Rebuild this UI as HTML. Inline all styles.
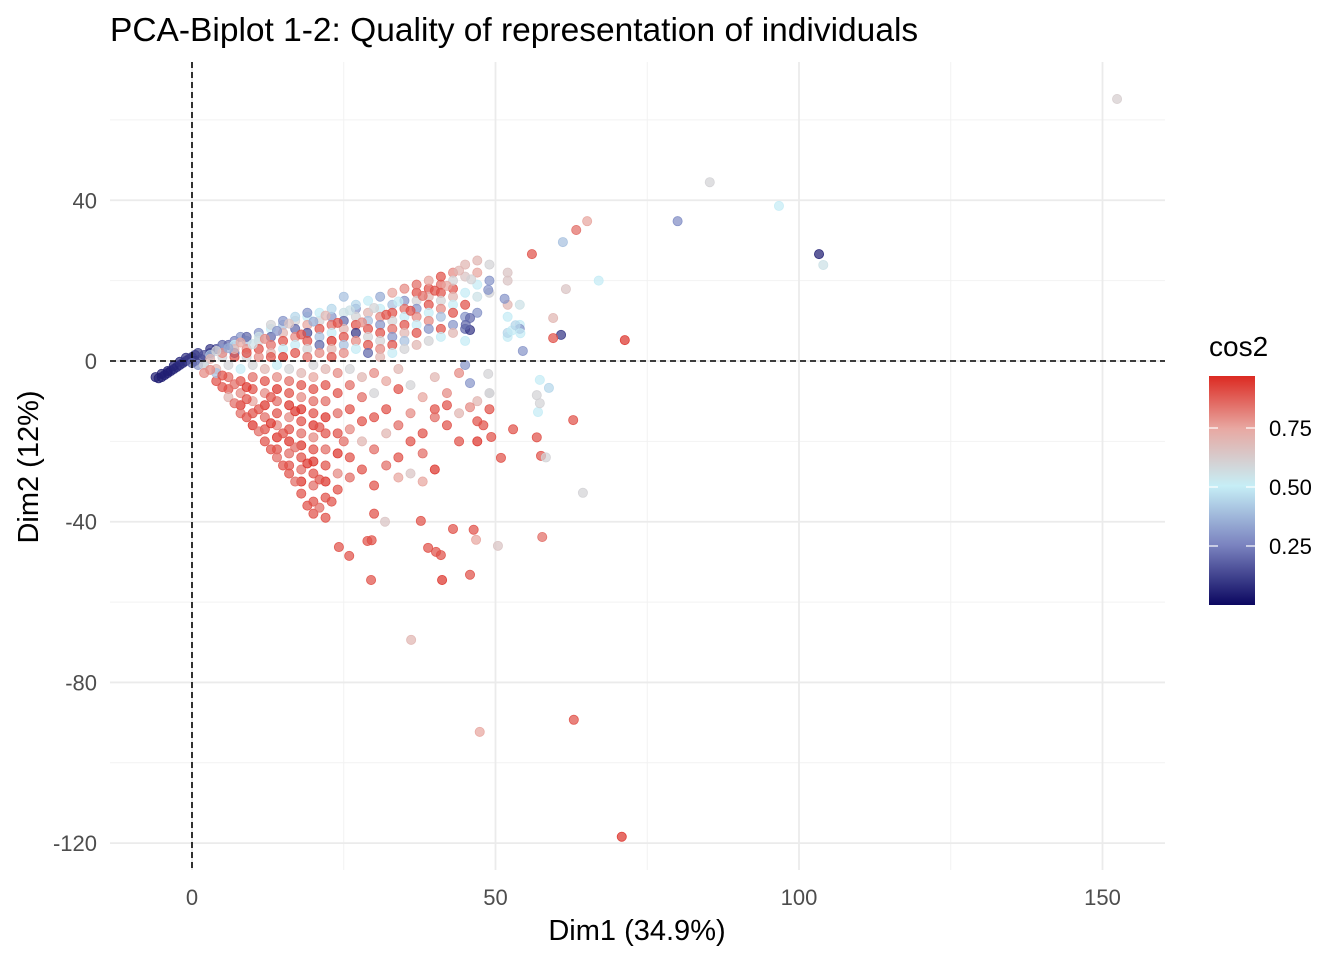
<!DOCTYPE html>
<html><head><meta charset="utf-8"><style>
html,body{margin:0;padding:0;background:#fff;}
svg{display:block;font-family:"Liberation Sans",Arial,sans-serif;}
</style></head><body>
<svg id="chart" width="1344" height="960" viewBox="0 0 1344 960">
<defs>
<linearGradient id="cg" x1="0" y1="1" x2="0" y2="0">
<stop offset="0" stop-color="#0b0760"/>
<stop offset="0.26" stop-color="#7a82bf"/>
<stop offset="0.52" stop-color="#c6eef6"/>
<stop offset="0.77" stop-color="#e8a8a2"/>
<stop offset="1" stop-color="#dc2a22"/>
</linearGradient>
</defs>
<text x="110" y="41" font-size="33.5" fill="#000">PCA-Biplot 1-2: Quality of representation of individuals</text>
<g id="grid"></g>
<g id="pts"></g>
<g id="axes"></g>
<text x="637" y="940" font-size="29" text-anchor="middle">Dim1 (34.9%)</text>
<text transform="translate(38,467) rotate(-90)" font-size="29" text-anchor="middle">Dim2 (12%)</text>
<g>
<text x="1209" y="356" font-size="28">cos2</text>
<rect x="1209" y="376" width="46" height="229" fill="url(#cg)"/>
<g id="legticks"></g>
</g>
</svg>
<script>
const xTicks=[0,50,100,150];
const yTicks=[40,0,-40,-80,-120];
const legendTicks=[0.25,0.50,0.75];
const outliers=[[152.4,65.2,.62],[85.3,44.5,.6],[80,34.8,.28],[96.7,38.6,.5],[103.3,26.6,.05],[104,23.9,.55],[71.3,5.2,.95],[67,20,.5],[65.1,34.8,.75],[63.3,32.6,.85],[61.1,29.6,.4],[56,26.6,.9],[61.6,17.9,.65],[59.5,10.7,.7],[60.8,6.5,.1],[59.5,5.7,.9],[62.8,-14.7,.9],[64.4,-32.8,.6],[57.7,-43.8,.85],[62.9,-89.3,.9],[70.8,-118.4,.95],[47.4,-92.3,.75],[36.1,-69.4,.7],[41.2,-54.5,.95],[45.8,-53.2,.9],[29.5,-54.5,.9],[24.2,-46.3,.9],[25.9,-48.5,.9],[28.9,-44.8,.9],[29.6,-44.6,.9],[50.4,-46,.65],[46.8,-44.5,.75],[43,-41.8,.9],[46.4,-42,.9],[37.7,-39.8,.9],[31.8,-40,.65],[38.9,-46.5,.9],[40.2,-47.5,.9],[41,-48.3,.9],[56.8,-19,.9],[57.5,-23.6,.9],[58.3,-24,.6],[50.9,-24.1,.9],[49.3,-18.9,.9],[48,-16,.9],[52.9,-17,.9],[57.3,-4.7,.5],[58.8,-6.7,.45],[56.8,-8.5,.6],[57,-12.7,.5],[57.3,-10.5,.6],[49,-8,.6],[45.8,-11.5,.8],[45.8,-5.5,.3],[45,-1,.3],[48.8,-3.2,.6],[52.7,7.6,.5],[53.3,8.9,.45],[54.1,6.9,.5],[54.5,2.5,.3],[51.5,15.5,.3],[48.8,17.7,.3],[45.8,7.7,.1],[45.8,10.7,.2],[45.1,9,.2]];
const origin=[[-6,-4,.05],[-5.5,-4.3,.05],[-5,-4,.05],[-4.5,-3.5,.05],[-4,-3,.05],[-3.5,-2.5,.05],[-3,-2,.06],[-2.5,-1.5,.06],[-2,-1,.06],[-1.5,-0.5,.07],[-1,0,.08],[-0.5,0.5,.1],[0,1,.1],[0.5,1.5,.1],[1,2,.12],[-5,-3.2,.05],[-4,-2.5,.05],[-3,-1.2,.06],[-2,-0.2,.08],[-1,0.8,.1],[0.5,0,.1],[1.5,0.5,.12],[2,1.5,.15],[3,2,.15],[4,3,.15],[5,4,.2],[6,4,.2],[7,5,.25],[8,6,.3],[3,3,.1],[2,-1,.5],[1,-1,.3],[0,-0.5,.2]];
const upper=[[3,1.5,.4],[3,.5,.7],[5,3,.3],[5,1,.6],[5,2,.8],[7,4,.5],[7,2,.2],[7,1,.9],[7,3,.7],[9,5,.4],[9,3,.8],[9,1,.6],[9,6,.2],[9,2,.9],[11,7,.3],[11,5,.6],[11,3,.9],[11,1,.8],[11,6,.55],[13,8,.5],[13,6,.2],[13,4,.85],[13,2,.7],[13,1,.9],[13,9,.6],[15,9,.4],[15,7,.7],[15,5,.9],[15,3,.5],[15,1,.95],[15,10,.3],[17,10,.6],[17,8,.2],[17,6,.8],[17,4,.5],[17,2,.9],[17,11,.45],[19,11,.5],[19,9,.75],[19,7,.15],[19,5,.9],[19,3,.6],[19,1,.85],[19,12,.3],[21,10,.6],[21,8,.9],[21,6,.4],[21,4,.2],[21,2,.8],[21,12,.5],[23,11,.3],[23,9,.85],[23,7,.5],[23,5,.95],[23,3,.7],[23,1,.9],[23,13,.45],[25,12,.55],[25,10,.2],[25,8,.7],[25,6,.9],[25,4,.4],[25,2,.8],[25,16,.4],[27,13,.3],[27,11,.6],[27,9,.9],[27,7,.1],[27,5,.8],[27,3,.5],[27,14,.45],[29,12,.7],[29,10,.4],[29,8,.9],[29,6,.6],[29,4,.9],[29,2,.2],[29,15,.5],[31,13,.5],[31,11,.8],[31,9,.3],[31,7,.9],[31,5,.6],[31,3,.8],[31,1,.7],[31,16,.35],[33,14,.4],[33,12,.9],[33,10,.6],[33,8,.85],[33,6,.3],[33,4,.9],[33,2,.5],[33,17,.75],[35,15,.3],[35,13,.85],[35,11,.5],[35,9,.9],[35,7,.7],[35,5,.4],[35,3,.6],[35,18,.8],[37,17,.9],[37,15,.6],[37,13,.3],[37,11,.8],[37,9,.5],[37,7,.9],[37,4,.7],[37,19,.85],[39,18,.9],[39,16,.7],[39,14,.9],[39,12,.5],[39,10,.8],[39,8,.3],[39,5,.6],[39,20,.75],[41,19,.85],[41,17,.9],[41,15,.6],[41,13,.8],[41,11,.4],[41,8,.9],[41,6,.5],[41,21,.9],[43,22,.8],[43,18,.9],[43,16,.7],[43,14,.5],[43,12,.9],[43,9,.3],[43,7,.7],[43,20,.6],[45,24,.7],[45,21,.65],[45,17,.5],[45,14,.9],[45,11,.3],[45,8,.2],[45,5,.5],[47,25,.7],[47,22,.75],[47,19,.5],[47,16,.55],[47,12,.3],[49,24,.6],[49,20,.3],[49,17,.6],[52,22,.65],[52,20,.65],[52,14,.7],[52,11,.5],[52,6,.5],[52,7,.45],[54,14,.55],[54,9,.5],[54,8,.3],
[4,2.5,.6],[6,3.2,.35],[8,4.6,.75],[10,4.2,.55],[12,5.5,.8],[14,7.5,.3],[16,9.3,.65],[18,6.6,.9],[20,9.8,.35],[22,11.3,.7],[24,9.5,.9],[26,12.6,.55],[28,9.6,.8],[30,13.2,.6],[32,11.5,.9],[34,14.8,.5],[36,12.5,.9],[38,16.2,.85],[40,17.5,.9],[42,18.7,.75],[44,22.5,.7],[46,20.3,.6]];
const lower=[[2,-1,.6],[2,-3,.8],[4,-2,.7],[4,-5,.9],[4,-3,.4],[6,-1,.6],[6,-4,.85],[6,-7,.9],[6,-9,.7],[8,-2,.5],[8,-5,.9],[8,-8,.8],[8,-11,.95],[8,-13,.85],[10,-1,.6],[10,-4,.85],[10,-7,.9],[10,-10,.75],[10,-13,.9],[10,-16,.95],[12,-2,.7],[12,-5,.9],[12,-8,.8],[12,-11,.95],[12,-14,.85],[12,-17,.9],[12,-20,.9],[14,-1,.5],[14,-4,.8],[14,-7,.95],[14,-10,.85],[14,-13,.9],[14,-16,.8],[14,-19,.95],[14,-22,.9],[14,-24,.85],[16,-2,.6],[16,-5,.85],[16,-8,.9],[16,-11,.95],[16,-14,.8],[16,-17,.9],[16,-20,.95],[16,-23,.85],[16,-26,.9],[16,-28,.9],[18,-3,.7],[18,-6,.9],[18,-9,.8],[18,-12,.95],[18,-15,.9],[18,-18,.85],[18,-21,.95],[18,-24,.9],[18,-27,.85],[18,-30,.95],[18,-33,.9],[20,-1,.6],[20,-4,.75],[20,-7,.9],[20,-10,.85],[20,-13,.9],[20,-16,.95],[20,-19,.8],[20,-22,.9],[20,-25,.95],[20,-28,.9],[20,-31,.85],[20,-35,.9],[20,-38,.9],[22,-2,.7],[22,-6,.9],[22,-10,.85],[22,-14,.95],[22,-18,.9],[22,-22,.85],[22,-26,.9],[22,-30,.95],[22,-34,.9],[22,-39,.9],[24,-3,.8],[24,-8,.9],[24,-13,.85],[24,-18,.9],[24,-23,.95],[24,-28,.8],[24,-32,.9],[26,-2,.6],[26,-6,.85],[26,-12,.9],[26,-17,.8],[26,-24,.9],[26,-29,.85],[28,-4,.7],[28,-9,.85],[28,-15,.9],[28,-20,.7],[28,-27,.9],[30,-3,.8],[30,-8,.6],[30,-14,.9],[30,-22,.85],[30,-31,.9],[30,-38,.9],[32,-5,.75],[32,-12,.9],[32,-18,.7],[32,-26,.85],[34,-2,.7],[34,-7,.9],[34,-16,.85],[34,-24,.9],[34,-29,.75],[36,-6,.6],[36,-13,.8],[36,-20,.9],[36,-28,.65],[38,-9,.75],[38,-18,.9],[38,-23,.85],[38,-30,.75],[40,-4,.7],[40,-12,.9],[40,-27,.95],[40,-14,.85],[42,-8,.8],[42,-16,.9],[42,-11,.9],[44,-3,.8],[44,-13,.7],[44,-20,.9],[47,-10,.7],[47,-15,.9],[47,-20,.95],[49,-8,.6],[49,-12,.9],
[3,-2.2,.8],[5,-3.6,.9],[7,-5.8,.85],[9,-9.5,.9],[11,-12,.9],[13,-15.5,.95],[15,-18,.9],[17,-21.5,.85],[19,-25.5,.95],[21,-29.5,.9],[23,-35,.9],[21,-36.5,.85],[19,-36,.9],[17,-30,.85],[15,-26,.9],[13,-22,.9],[11,-17.5,.85],[9,-14,.9],[7,-10.5,.85],[5,-6.5,.9],[9,-6.5,.95],[13,-9,.9],[17,-12.5,.95],[21,-16.5,.9],[25,-20,.85]];

const NS='http://www.w3.org/2000/svg';
const X0=110,X1=1165,Y0=62,Y1=870;
const sx=v=>192+v*6.07;
const sy=v=>361-v*4.018;
const legY=v=>605-v*236;
const stops=[[0,[11,7,96]],[0.26,[122,130,191]],[0.52,[198,238,246]],[0.77,[232,168,162]],[1,[220,42,34]]];
function col(c){c=Math.max(0,Math.min(1,c/0.97));for(let i=1;i<stops.length;i++){if(c<=stops[i][0]){const a=stops[i-1],b=stops[i],t=(c-a[0])/(b[0]-a[0]);return 'rgb('+a[1].map((v,k)=>Math.round(v+(b[1][k]-v)*t)).join(',')+')';}}return 'rgb(220,42,34)';}
function mk(tag,at,parent){const e=document.createElementNS(NS,tag);for(const k in at)e.setAttribute(k,at[k]);parent.appendChild(e);return e;}
const grid=document.getElementById('grid');
[25,75,125].forEach(v=>{const l=mk('line',{x1:sx(v),x2:sx(v),y1:Y0,y2:Y1,stroke:'#f2f2f2','stroke-width':1},grid);

});
[60,20,-20,-60,-100].forEach(v=>{const l=mk('line',{x1:X0,x2:X1,y1:sy(v),y2:sy(v),stroke:'#f2f2f2','stroke-width':1},grid);

});
const axes=document.getElementById('axes');
xTicks.forEach(v=>{const l=mk('line',{x1:sx(v),x2:sx(v),y1:Y0,y2:Y1,stroke:'#ebebeb','stroke-width':1.8},grid);


const t=mk('text',{x:sx(v),y:905,'font-size':22,fill:'#4d4d4d','text-anchor':'middle'},axes);t.textContent=v;

});
yTicks.forEach(v=>{const l=mk('line',{x1:X0,x2:X1,y1:sy(v),y2:sy(v),stroke:'#ebebeb','stroke-width':1.8},grid);


const t=mk('text',{x:97,y:sy(v)+8,'font-size':22,fill:'#4d4d4d','text-anchor':'end'},axes);t.textContent=v;

});
const pts=document.getElementById('pts');
[origin,upper,lower,outliers].forEach(arr=>arr.forEach(p=>{const c=col(p[2]);
const e=mk('circle',{cx:sx(p[0]),cy:sy(p[1]),r:4.6,fill:c,'fill-opacity':0.72,stroke:c,'stroke-opacity':0.9,'stroke-width':0.8},pts);

}));
const h=mk('line',{x1:X0,x2:X1,y1:sy(0),y2:sy(0),stroke:'#000','stroke-width':1.6,'stroke-dasharray':'6,4'},axes);


const vl=mk('line',{x1:sx(0),x2:sx(0),y1:Y0,y2:Y1,stroke:'#000','stroke-width':1.6,'stroke-dasharray':'6,4'},axes);


const lg=document.getElementById('legticks');
legendTicks.forEach(v=>{mk('line',{x1:1209,x2:1218,y1:legY(v),y2:legY(v),stroke:'#fff','stroke-width':1.2},lg);mk('line',{x1:1246,x2:1255,y1:legY(v),y2:legY(v),stroke:'#fff','stroke-width':1.2},lg);
const t=mk('text',{x:1269,y:legY(v)+8,'font-size':22,fill:'#000'},lg);t.textContent=v.toFixed(2);

});
</script>
</body></html>
